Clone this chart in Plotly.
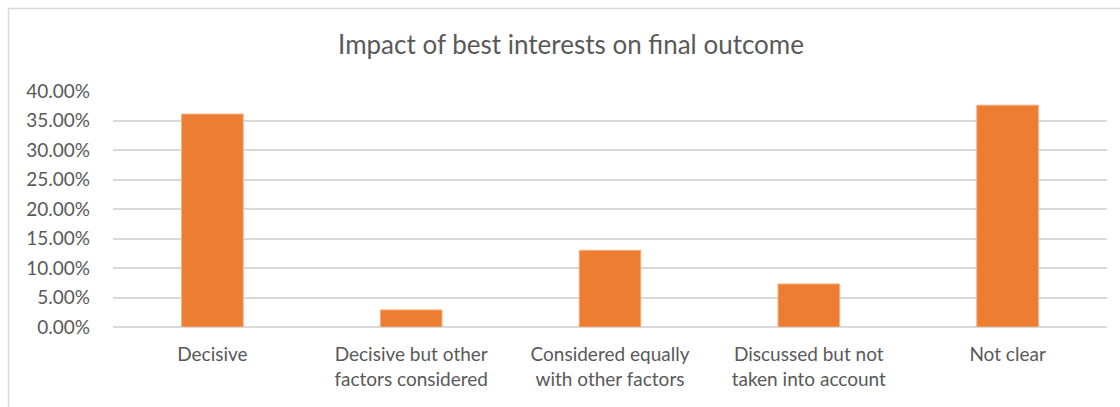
import plotly.graph_objects as go

# Share of cases by how best interests affected the final outcome
categories = [
    "Decisive",
    "Decisive but other<br>factors considered",
    "Considered equally<br>with other factors",
    "Discussed but not<br>taken into account",
    "Not clear",
]
shares = [0.361, 0.029, 0.130, 0.073, 0.376]
y_ticks = [0.00, 0.05, 0.10, 0.15, 0.20, 0.25, 0.30, 0.35, 0.40]

W, H = 1120, 407
ML, MR, MT, MB = 113, 13, 91, 80
PW, PH = W - ML - MR, H - MT - MB

TEXT = "#595959"
GRID = "#D9D9D9"
ORANGE = "#ED7D31"

fig = go.Figure(
    go.Bar(
        x=categories,
        y=shares,
        marker=dict(color=ORANGE, line=dict(color="#F4B183", width=1)),
        hoverinfo="skip",
    )
)

# outer chart frame (runs off the right and bottom edges)
def px_x(p):
    return (p - ML) / PW

def px_y(p):
    return (H - MB - p) / PH

fig.add_shape(
    type="rect", xref="paper", yref="paper",
    x0=px_x(8.5), x1=px_x(1130), y0=px_y(8.5), y1=px_y(420),
    line=dict(color=GRID, width=1.5), fillcolor="rgba(0,0,0,0)", layer="below",
)

fig.update_layout(
    width=W, height=H,
    margin=dict(l=ML, r=MR, t=MT, b=MB, pad=0),
    paper_bgcolor="white", plot_bgcolor="white",
    bargap=0.69,
    showlegend=False,
    title=dict(
        text="Impact of best interests on final outcome",
        x=571 / W, xref="container", xanchor="center",
        y=1 - 45 / H, yref="container", yanchor="middle",
        font=dict(family="Lato", size=26, color=TEXT),
    ),
    font=dict(family="Lato", size=19, color=TEXT),
    xaxis=dict(
        showgrid=False, showline=False, zeroline=False,
        ticks="", tickfont=dict(size=19, color=TEXT),
        ticklabelstandoff=14,
    ),
    yaxis=dict(
        range=[0, 0.40],
        tickvals=y_ticks,
        tickformat=".2%",
        showgrid=True, gridcolor=GRID, gridwidth=1.5,
        zeroline=True, zerolinecolor=GRID, zerolinewidth=1.5,
        showline=False, ticks="",
        tickfont=dict(size=19, color=TEXT),
        ticklabelstandoff=22,
    ),
)

fig.write_html("out.html")
